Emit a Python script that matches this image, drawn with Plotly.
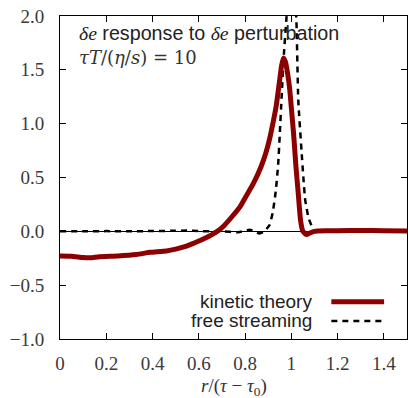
import plotly.graph_objects as go

# kinetic theory response
kt_r = [0.00, 0.05, 0.10, 0.13, 0.17, 0.25, 0.33, 0.39, 0.46, 0.50, 0.55, 0.60, 0.64, 0.68,
        0.71, 0.745, 0.78, 0.80, 0.835, 0.869, 0.89, 0.905, 0.92, 0.935, 0.948, 0.958, 0.966,
        0.975, 0.985, 0.993, 1.00, 1.01, 1.02, 1.03, 1.04, 1.05, 1.065, 1.08, 1.10, 1.15,
        1.20, 1.30, 1.40, 1.50]
kt_v = [-0.230, -0.232, -0.243, -0.245, -0.235, -0.228, -0.215, -0.195, -0.182, -0.165, -0.135,
        -0.090, -0.050, 0.000, 0.055, 0.140, 0.235, 0.310, 0.440, 0.600, 0.730, 0.850, 1.000,
        1.170, 1.380, 1.540, 1.610, 1.570, 1.450, 1.320, 1.150, 0.900, 0.600, 0.350, 0.100,
        0.000, -0.030, -0.015, 0.000, 0.005, 0.005, 0.008, 0.005, 0.003]

# free streaming response
fs_r = [0.00, 0.10, 0.20, 0.30, 0.40, 0.50, 0.55, 0.60, 0.65, 0.70, 0.77, 0.82, 0.845, 0.862,
        0.88, 0.905, 0.92, 0.933, 0.943, 0.95, 0.958, 0.968, 0.978, 0.99, 1.00, 1.012, 1.022,
        1.03, 1.044, 1.052, 1.06, 1.075, 1.09, 1.10, 1.12, 1.50]
fs_v = [0.000, 0.000, 0.002, 0.000, 0.003, 0.005, 0.008, 0.003, 0.000, 0.000, -0.008, 0.015,
        -0.005, -0.020, -0.005, 0.055, 0.180, 0.380, 0.620, 0.900, 1.250, 1.650, 1.950, 2.300,
        2.450, 2.300, 1.950, 1.220, 0.750, 0.500, 0.290, 0.120, 0.040, 0.010, 0.000, 0.000]

x_ticks = [0, 0.2, 0.4, 0.6, 0.8, 1.0, 1.2, 1.4]
y_ticks = [-1.0, -0.5, 0.0, 0.5, 1.0, 1.5, 2.0]

RED = "#8b0000"
SERIF = "Liberation Serif"
SANS = "Liberation Sans"

fig = go.Figure()
fig.add_trace(go.Scatter(x=fs_r, y=fs_v, mode="lines", name="free streaming",
                         line=dict(color="black", width=2.5, dash="6px,5px",
                                   shape="spline", smoothing=0.5),
                         showlegend=False))
fig.add_trace(go.Scatter(x=kt_r, y=kt_v, mode="lines", name="kinetic theory",
                         line=dict(color=RED, width=5, shape="spline", smoothing=0.5),
                         showlegend=False))

axis_common = dict(showline=True, linecolor="black", linewidth=1, mirror="ticks",
                   ticks="inside", ticklen=6, tickcolor="black", showgrid=False,
                   tickfont=dict(family=SERIF, size=19, color="#3a3a3a"))

fig.update_xaxes(range=[0, 1.5], tickvals=x_ticks,
                 ticktext=["0", "0.2", "0.4", "0.6", "0.8", "1", "1.2", "1.4"],
                 zeroline=False, ticklabelstandoff=7, **axis_common)
fig.update_yaxes(range=[-1.0, 2.0], tickvals=y_ticks,
                 ticktext=["\u22121.0", "\u22120.5", "0.0", "0.5", "1.0", "1.5", "2.0"],
                 zeroline=True, zerolinecolor="black", zerolinewidth=1,
                 ticklabelstandoff=11, **axis_common)

ann = []
ann.append(dict(x=0.049, y=0.947, xref="paper", yref="paper", xanchor="left", yanchor="middle",
                showarrow=False,
                text=f"<span style='font-family:{SERIF}'><i>δe</i></span> response to "
                     f"<span style='font-family:{SERIF}'><i>δe</i></span> perturbation",
                font=dict(family=SANS, size=19.7, color="#222222")))
ann.append(dict(x=0.049, y=0.870, xref="paper", yref="paper", xanchor="left", yanchor="middle",
                showarrow=False,
                text="<i>τT</i>/(<i>η</i>/<i>s</i>) = 10",
                font=dict(family="DejaVu Serif", size=18, color="#333333")))
ann.append(dict(x=0.733, y=0.115, xref="paper", yref="paper", xanchor="right", yanchor="middle",
                showarrow=False, text="kinetic theory",
                font=dict(family=SANS, size=19, color="#222222")))
ann.append(dict(x=0.733, y=0.056, xref="paper", yref="paper", xanchor="right", yanchor="middle",
                showarrow=False, text="free streaming",
                font=dict(family=SANS, size=19, color="#222222")))
ann.append(dict(x=0.5, y=-0.149, xref="paper", yref="paper", xanchor="center", yanchor="middle",
                showarrow=False, text="<i>r</i>/(<i>τ</i> − <i>τ</i><sub>0</sub>)",
                font=dict(family=SERIF, size=19, color="#333333")))

shapes = [
    dict(type="line", xref="paper", yref="paper", x0=0.782, x1=0.934, y0=0.115, y1=0.115,
         line=dict(color=RED, width=5)),
    dict(type="line", xref="paper", yref="paper", x0=0.782, x1=0.934, y0=0.056, y1=0.056,
         line=dict(color="black", width=2.5, dash="6px,5px")),
]

fig.update_layout(width=408, height=398, margin=dict(l=60, r=1, t=16, b=59),
                  paper_bgcolor="white", plot_bgcolor="white",
                  annotations=ann, shapes=shapes, showlegend=False)

fig.write_html("out.html")
